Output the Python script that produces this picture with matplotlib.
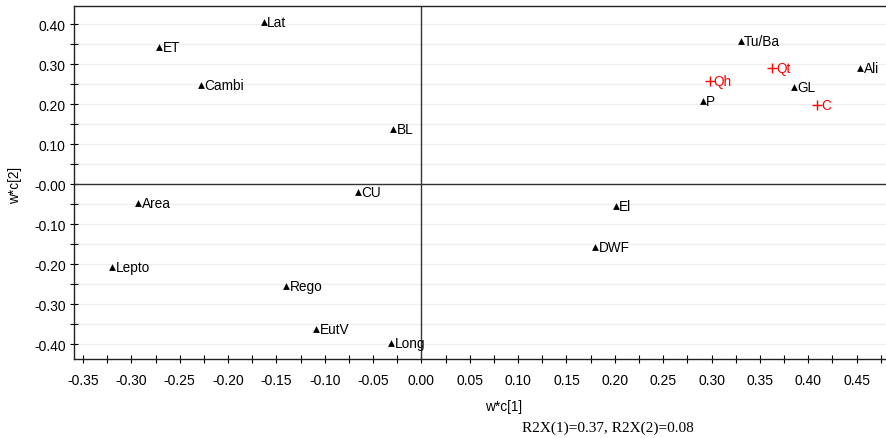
import numpy as np
import matplotlib.pyplot as plt
from matplotlib.ticker import MultipleLocator, FormatStrFormatter

# loadings (triangles)
var_names = ['Lat', 'ET', 'Cambi', 'BL', 'CU', 'Area', 'Lepto', 'Rego', 'EutV', 'Long',
             'Tu/Ba', 'Ali', 'GL', 'P', 'El', 'DWF']
var_x = [-0.163, -0.271, -0.228, -0.029, -0.066, -0.293, -0.320, -0.140, -0.109, -0.031,
         0.330, 0.454, 0.385, 0.291, 0.201, 0.180]
var_y = [0.405, 0.344, 0.248, 0.138, -0.020, -0.047, -0.206, -0.255, -0.362, -0.398,
         0.359, 0.290, 0.243, 0.208, -0.054, -0.158]

# responses (red crosses)
resp_names = ['Qh', 'Qt', 'C']
resp_x = [0.298, 0.363, 0.409]
resp_y = [0.259, 0.291, 0.198]

plt.rcParams['font.family'] = ['Liberation Sans', 'DejaVu Sans']

fig = plt.figure(figsize=(8.86, 4.39), dpi=100)
W, H = 886, 439
ax = fig.add_axes([74 / W, 1 - 360 / H, (888 - 74) / W, (360 - 7) / H])

ax.set_xlim(-0.3593, 0.4825)
ax.set_ylim(-0.437, 0.446)

ax.xaxis.set_major_locator(MultipleLocator(0.05))
ax.xaxis.set_minor_locator(MultipleLocator(0.025))
ax.yaxis.set_major_locator(MultipleLocator(0.10))
ax.yaxis.set_minor_locator(MultipleLocator(0.05))
ax.xaxis.set_major_formatter(FormatStrFormatter('%.2f'))
ax.yaxis.set_major_formatter(lambda v, p: '-0.00' if abs(v) < 1e-9 else '%.2f' % v)

ax.tick_params(which='both', direction='inout', length=6, width=0.8, labelsize=10,
               colors='black')
ax.tick_params(axis='x', pad=7)
ax.tick_params(axis='y', pad=3)

ax.yaxis.grid(True, which='both', color='#efefef', linewidth=0.9)
ax.set_axisbelow(True)
ax.spines['right'].set_visible(False)
for s in ['left', 'bottom', 'top']:
    ax.spines[s].set_color('#222222')
    ax.spines[s].set_linewidth(1.0)

ax.axhline(0, color='#333333', linewidth=1.0)
ax.axvline(0, color='#333333', linewidth=1.0)

ax.scatter(var_x, var_y, marker='^', s=24, color='black', zorder=3, linewidths=0)
for n, x, y in zip(var_names, var_x, var_y):
    ax.annotate(n, (x, y), xytext=(2.5, 0), textcoords='offset points',
                va='center', ha='left', fontsize=9.8, color='black')

ax.scatter(resp_x, resp_y, marker='+', s=45, color='red', zorder=3, linewidths=1.0)
for n, x, y in zip(resp_names, resp_x, resp_y):
    ax.annotate(n, (x, y), xytext=(3, 0), textcoords='offset points',
                va='center', ha='left', fontsize=9.8, color='red')

fig.text(485 / W, 1 - 407 / H, 'w*c[1]', fontsize=9.8, ha='left', va='center')
fig.text(15 / W, 1 - 185 / H, 'w*c[2]', fontsize=9.8, rotation=90, ha='center', va='center')
fig.text(522 / W, 1 - 428 / H, 'R2X(1)=0.37, R2X(2)=0.08', fontsize=11,
         family=['Liberation Serif', 'DejaVu Serif'], ha='left', va='center')

fig.savefig('out.png', dpi=100)
